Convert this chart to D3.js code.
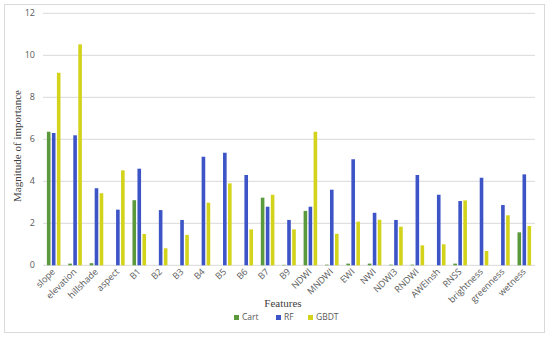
<!DOCTYPE html>
<html>
<head>
<meta charset="utf-8">
<script src="https://cdn.jsdelivr.net/npm/d3@7"></script>
<style>
  body { margin: 0; background: #fff; }
  text { font-family: "Open Sans", "Liberation Sans", sans-serif; }
  text.title { font-family: "Liberation Serif", "DejaVu Serif", serif; }
</style>
</head>
<body>
<svg id="chart" width="550" height="337"></svg>
<script>
const features = ['slope', 'elevation', 'hillshade', 'aspect', 'B1', 'B2', 'B3', 'B4', 'B5', 'B6', 'B7', 'B9',
  'NDWI', 'MNDWI', 'EWI', 'NWI', 'NDWI3', 'RNDWI', 'AWEInsh', 'RNSS', 'brightness', 'greenness', 'wetness']
const models = ['Cart', 'RF', 'GBDT']
const cart = [6.36, 0.08, 0.1, 0, 3.1, 0, 0, 0, 0, 0, 3.22, 0.02, 2.59, 0.03, 0.08, 0.08, 0.03, 0.03, 0, 0.08, 0, 0, 1.57]
const rf = [6.3, 6.19, 3.67, 2.65, 4.6, 2.63, 2.16, 5.17, 5.36, 4.3, 2.79, 2.16, 2.79, 3.6, 5.05, 2.5, 2.16, 4.3, 3.36, 3.06, 4.17, 2.87, 4.33]
const gbdt = [9.17, 10.52, 3.43, 4.52, 1.49, 0.81, 1.45, 2.98, 3.9, 1.71, 3.36, 1.71, 6.36, 1.5, 2.08, 2.17, 1.84, 0.95, 1.0, 3.09, 0.68, 2.38, 1.87]
const yTicks = [0, 2, 4, 6, 8, 10, 12]

const colors = { Cart: '#5a9a3c', RF: '#3c54c6', GBDT: '#d3d31c' }
const series = { Cart: cart, RF: rf, GBDT: gbdt }

const svg = d3.select('#chart')

// outer frame
svg.append('rect')
  .attr('x', 4.5).attr('y', 4.5)
  .attr('width', 540).attr('height', 328)
  .attr('fill', 'none').attr('stroke', '#d9d9d9')

const plotLeft = 43
const plotRight = 535
const plotTop = 13.3
const plotBottom = 265.3

const x = d3.scaleBand().domain(features).range([plotLeft, plotRight])
const x1 = d3.scaleBand().domain(models).range([x.bandwidth() / 2 - 6.8, x.bandwidth() / 2 + 6.8]).paddingInner(0.28)
const y = d3.scaleLinear().domain([0, 12]).range([plotBottom, plotTop])

// gridlines
svg.append('g')
  .selectAll('line')
  .data(yTicks)
  .enter()
  .append('line')
  .attr('x1', plotLeft).attr('x2', plotRight)
  .attr('y1', d => y(d)).attr('y2', d => y(d))
  .attr('stroke', '#d9d9d9').attr('stroke-width', 1)

// y tick labels
svg.append('g')
  .selectAll('text')
  .data(yTicks)
  .enter()
  .append('text')
  .attr('x', 35)
  .attr('y', d => y(d))
  .attr('dy', '0.35em')
  .attr('text-anchor', 'end')
  .attr('font-size', 9)
  .attr('fill', '#595959')
  .text(d => d)

// bars
const groups = svg.append('g')
  .selectAll('g')
  .data(features)
  .enter()
  .append('g')
  .attr('transform', d => `translate(${x(d)},0)`)

groups.selectAll('rect')
  .data((d, i) => models.map(m => ({ model: m, value: series[m][i] })))
  .enter()
  .append('rect')
  .attr('x', d => x1(d.model))
  .attr('width', x1.bandwidth())
  .attr('y', d => y(d.value))
  .attr('height', d => y(0) - y(d.value))
  .attr('fill', d => colors[d.model])

// x labels, rotated
svg.append('g')
  .selectAll('text')
  .data(features)
  .enter()
  .append('text')
  .attr('transform', d => `translate(${x(d) + x.bandwidth() / 2 + 2},${plotBottom + 7}) rotate(-45)`)
  .attr('text-anchor', 'end')
  .attr('font-size', 9)
  .attr('fill', '#595959')
  .text(d => d)

// axis titles
svg.append('text')
  .attr('class', 'title')
  .attr('x', 283).attr('y', 307)
  .attr('text-anchor', 'middle')
  .attr('font-size', 11)
  .attr('fill', '#404040')
  .text('Features')

svg.append('text')
  .attr('class', 'title')
  .attr('transform', 'translate(21,146) rotate(-90)')
  .attr('text-anchor', 'middle')
  .attr('font-size', 11)
  .attr('fill', '#404040')
  .text('Magnitude of importance')

// legend
const legendX = [234, 276, 308]
const legend = svg.append('g')
  .selectAll('g')
  .data(models)
  .enter()
  .append('g')
  .attr('transform', (d, i) => `translate(${legendX[i]},315)`)

legend.append('rect')
  .attr('width', 5).attr('height', 5)
  .attr('fill', d => colors[d])

legend.append('text')
  .attr('x', 8).attr('y', 2.5)
  .attr('dy', '0.35em')
  .attr('font-size', 8.5)
  .attr('fill', '#595959')
  .text(d => d)
</script>
</body>
</html>
